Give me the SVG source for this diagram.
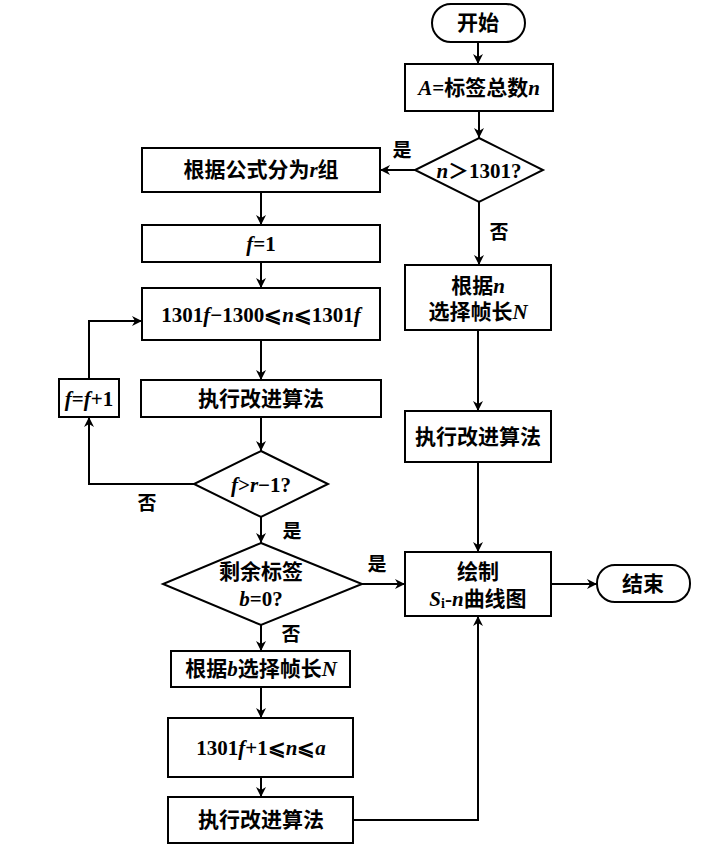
<svg xmlns="http://www.w3.org/2000/svg" width="725" height="849" viewBox="0 0 725 849">
<defs>
<marker id="arr" viewBox="0 0 10 10" refX="10" refY="5" markerWidth="10" markerHeight="10" markerUnits="userSpaceOnUse" orient="auto">
<path d="M0,0 L10,5 L0,10 L3,5 Z" fill="#000"/>
</marker>
<style>
.box{fill:#fff;stroke:#000;stroke-width:2}
.t{font-family:"Liberation Serif","Noto Sans CJK SC",serif;font-size:21px;font-weight:bold;text-anchor:middle;dominant-baseline:central;fill:#000}
.lb{font-family:"Liberation Serif","Noto Sans CJK SC",serif;font-size:19px;font-weight:bold;text-anchor:middle;dominant-baseline:central;fill:#000}
.i{font-style:italic}
.c{fill:none;stroke:#000;stroke-width:2;marker-end:url(#arr)}
</style>
</defs>
<rect width="725" height="849" fill="#fff"/>
<g id="connectors">
<path class="c" d="M478,42 V64"/>
<path class="c" d="M479,111 V138"/>
<path class="c" d="M415,170 H380"/>
<path class="c" d="M261,192 V225"/>
<path class="c" d="M261,262 V288"/>
<path class="c" d="M261,340 V380"/>
<path class="c" d="M261,417 V451"/>
<path class="c" d="M194,484 H89 V417"/>
<path class="c" d="M89,379 V321 H142"/>
<path class="c" d="M261,517 V543"/>
<path class="c" d="M362,584 H405"/>
<path class="c" d="M261,625 V651"/>
<path class="c" d="M261,687 V718"/>
<path class="c" d="M261,777 V797"/>
<path class="c" d="M353,820 H478 V616"/>
<path class="c" d="M479,202 V265"/>
<path class="c" d="M478,330 V411"/>
<path class="c" d="M478,462 V552"/>
<path class="c" d="M551,584 H597"/>
</g>
<g id="labels">
<text class="lb" x="402" y="150">是</text>
<text class="lb" x="499" y="232">否</text>
<text class="lb" x="147" y="503">否</text>
<text class="lb" x="292" y="531">是</text>
<text class="lb" x="377" y="564">是</text>
<text class="lb" x="291" y="634">否</text>
</g>
<g id="start">
<rect class="box" x="432" y="4" width="93" height="38" rx="19"/>
<text class="t" x="478" y="23">开始</text>
</g>
<g id="initA">
<rect class="box" x="405" y="64" width="148" height="47"/>
<text class="t" x="479" y="88"><tspan class="i">A</tspan>=标签总数<tspan class="i">n</tspan></text>
</g>
<g id="dec1">
<polygon class="box" points="479,138 543,170 479,202 415,170"/>
<text class="t" x="479" y="171"><tspan class="i">n</tspan>＞1301?</text>
</g>
<g id="groupR">
<rect class="box" x="142" y="148" width="238" height="44"/>
<text class="t" x="261" y="170">根据公式分为<tspan class="i">r</tspan>组</text>
</g>
<g id="f1">
<rect class="box" x="142" y="225" width="238" height="37"/>
<text class="t" x="261" y="244"><tspan class="i">f</tspan>=1</text>
</g>
<g id="range">
<rect class="box" x="142" y="288" width="238" height="52"/>
<text class="t" x="261" y="315">1301<tspan class="i">f</tspan>−1300⩽<tspan class="i">n</tspan>⩽1301<tspan class="i">f</tspan></text>
</g>
<g id="execL">
<rect class="box" x="141" y="380" width="240" height="37"/>
<text class="t" x="261" y="399">执行改进算法</text>
</g>
<g id="finc">
<rect class="box" x="59" y="379" width="60" height="38"/>
<text class="t" x="89" y="399"><tspan class="i">f</tspan>=<tspan class="i">f</tspan>+1</text>
</g>
<g id="dec2">
<polygon class="box" points="261,451 328,484 261,517 194,484"/>
<text class="t" x="261" y="485"><tspan class="i">f</tspan>&gt;<tspan class="i">r</tspan>−1?</text>
</g>
<g id="dec3">
<polygon class="box" points="261,543 362,584 261,625 163,584"/>
<text class="t" x="261" y="572">剩余标签</text>
<text class="t" x="261" y="599"><tspan class="i">b</tspan>=0?</text>
</g>
<g id="selB">
<rect class="box" x="171" y="651" width="179" height="36"/>
<text class="t" x="261" y="669">根据<tspan class="i">b</tspan>选择帧长<tspan class="i">N</tspan></text>
</g>
<g id="range2">
<rect class="box" x="168" y="718" width="185" height="59"/>
<text class="t" x="261" y="748">1301<tspan class="i">f</tspan>+1⩽<tspan class="i">n</tspan>⩽<tspan class="i">a</tspan></text>
</g>
<g id="execB">
<rect class="box" x="168" y="797" width="185" height="46"/>
<text class="t" x="261" y="820">执行改进算法</text>
</g>
<g id="selN">
<rect class="box" x="405" y="265" width="146" height="65"/>
<text class="t" x="478" y="286">根据<tspan class="i">n</tspan></text>
<text class="t" x="478" y="312">选择帧长<tspan class="i">N</tspan></text>
</g>
<g id="execR">
<rect class="box" x="405" y="411" width="146" height="51"/>
<text class="t" x="478" y="437">执行改进算法</text>
</g>
<g id="draw">
<rect class="box" x="405" y="552" width="146" height="64"/>
<text class="t" x="478" y="572">绘制</text>
<text class="t" x="478" y="599"><tspan class="i">S</tspan><tspan font-size="14" dy="4">i</tspan><tspan dy="-4">-</tspan><tspan class="i">n</tspan>曲线图</text>
</g>
<g id="end">
<rect class="box" x="597" y="565" width="93" height="37" rx="18"/>
<text class="t" x="643" y="584">结束</text>
</g>
</svg>
